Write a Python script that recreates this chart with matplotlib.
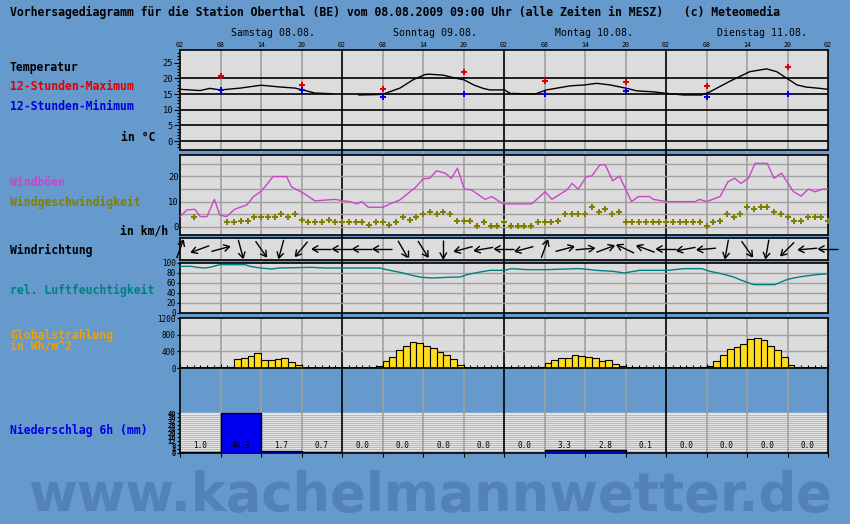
import numpy as np
import matplotlib
matplotlib.use("Agg")
import matplotlib.pyplot as plt
import matplotlib.transforms as mtrans
from matplotlib.collections import LineCollection

plt.rcParams["font.family"] = ["DejaVu Sans Mono"]

# ── data (hours since Saturday 02:00) ───────────────────────────────────────
hour_labels = ["02", "08", "14", "20"] * 4 + ["02"]
day_labels = ["Samstag 08.08.", "Sonntag 09.08.", "Montag 10.08.", "Dienstag 11.08."]

temp_t = [0, 3, 4.4, 6, 9, 12, 15, 17, 18, 20, 22.5, 24, 26.5, 28.6, 30, 32.6, 34.5,
          36.3, 37, 39.0, 40.5, 42.1, 43.5, 44.9, 45.9, 48.1, 48.9, 52.6, 54.3, 57.8,
          60, 61.7, 63.7, 66.2, 67.7, 70.1, 72.1, 74.6, 77.3, 78.5, 81.5, 84.4, 86.9,
          88.4, 89.9, 91.4, 92.8, 94.8, 96]
temp_v = [16.5, 16.1, 16.8, 16.3, 16.9, 17.8, 17.2, 16.9, 16.4, 15.3, 15.1, np.nan,
          14.7, 14.8, 14.9, 16.9, 19.5, 21.2, 21.3, 21.0, 20.2, 19.5, 17.9, 16.8, 16.3,
          16.3, 15.2, 15.0, 16.3, 17.6, 17.9, 18.4, 17.9, 16.8, 16.0, 15.7, 15.2, 14.7,
          14.7, 15.7, 19.1, 22.1, 23.0, 22.1, 20.0, 17.9, 17.2, 16.8, 16.5]
ext_t = [6, 18, 30, 42, 54, 66, 78, 90]
tmax = [20.6, 17.8, 16.5, 21.9, 19.3, 18.7, 17.5, 23.5]
tmin = [16.3, 16.2, 14.2, 14.9, 14.9, 16.0, 14.2, 14.9]

gust_t = [0, 1, 2.2, 3, 4, 5.1, 5.9, 6.9, 8.1, 9.9, 10.9, 12.1, 13.8, 15.8, 16.5, 18.3,
          20, 22, 23, 24, 25.2, 26.2, 26.9, 27.9, 30.1, 31.1, 32.6, 35.0, 36.0, 37, 38,
          39.3, 40.2, 41.1, 42.1, 43.2, 45.2, 46.2, 47.9, 52.1, 54.1, 55.1, 57.3, 58.1,
          59, 60.2, 61, 62.2, 63, 64.1, 65.1, 66.9, 67.9, 69.6, 70.1, 72.1, 76.3, 77,
          78, 80, 81.2, 82.2, 83.1, 84.2, 85.2, 87, 88, 89.1, 90.9, 92, 93.1, 94.1,
          95.1, 96]
gust_v = [4.1, 6.7, 7.0, 4.1, 4.1, 10.9, 4.7, 4.1, 7.0, 8.7, 12.0, 14.3, 19.9, 19.9,
          15.9, 13.3, 10.3, 10.7, 10.9, 10.4, 10.0, 9.1, 10.0, 7.8, 7.8, 9.1, 10.7, 15.9,
          19.0, 19.2, 22.2, 21.2, 19.2, 23.2, 15.0, 14.6, 10.9, 12.0, 9.1, 9.1, 13.9,
          10.9, 14.6, 17.2, 14.9, 19.9, 20.1, 24.5, 24.5, 18.2, 20.1, 10.0, 12.0, 12.0,
          10.9, 10.0, 10.0, 10.9, 10.0, 12.0, 17.9, 19.2, 17.2, 19.2, 25.1, 25.1, 19.2,
          21.2, 13.9, 12.2, 14.9, 13.9, 14.9, 14.9]

wind_t = [2] + list(range(7, 97))
wind_v = [3.8,
          1.8, 1.8, 2.5, 2.5, 3.8, 3.8, 3.8, 3.8, 5.1, 3.8, 5.1, 2.8, 1.8, 1.8, 1.8,
          2.8, 1.8, 1.8, 1.8, 1.8, 1.8, 0.8, 1.8, 1.8, 0.8, 1.8, 3.8, 2.8, 3.8, 5.1,
          5.8, 5.1, 5.8, 5.1, 2.5, 2.5, 2.5, 0.5, 1.8, 0.5, 0.5, 1.8, 0.5, 0.5, 0.5,
          0.5, 1.8, 1.8, 1.8, 2.5, 5.1, 5.1, 5.1, 5.1, 7.8, 5.8, 7.0, 5.1, 5.8, 1.8,
          1.8, 1.8, 1.8, 1.8, 1.8, 1.8, 1.8, 1.8, 1.8, 1.8, 1.8, 0.5, 1.8, 2.5, 5.1,
          3.8, 5.1, 7.8, 7.0, 7.8, 7.8, 5.8, 5.1, 3.8, 2.5, 2.5, 3.8, 3.8, 3.8, 2.5]

dir_t = list(range(0, 97, 3))
dir_ang = [70, 200, 15, -75, -55, -105, -130, 180, 180, 180, 180, -60, -58, -90, 195,
           190, 180, 195, 70, 15, 5, 20, 155, 160, 180, 190, 185, -100, -55, -100,
           -135, 185, 180]   # arrow heading on screen, degrees

hum_t = [0, 1.7, 2.5, 3.7, 4.4, 5.9, 9.6, 10.4, 11.9, 13.6, 14.6, 19.5, 21.5, 29.6,
         30.6, 32.6, 34.6, 35.8, 37.5, 39.5, 41.5, 42.5, 44.2, 45.9, 48.1, 49.1, 51.4,
         54.3, 58.8, 59.3, 61.7, 64.2, 65.8, 67.2, 68.1, 72.3, 74.6, 77.3, 78.5, 80.2,
         82, 83.2, 85, 88.1, 89.9, 90.9, 92.3, 94.3, 96]
hum_v = [93.3, 93.3, 91.3, 90, 91.3, 96.7, 96.7, 93.3, 90, 88, 90, 91.3, 90, 90, 86.7,
         81.3, 74.7, 71.3, 70, 71.3, 72, 76.7, 81.3, 85.3, 85.3, 88.7, 86.7, 86.7, 88.7,
         88.7, 85.3, 83.3, 80, 83.3, 85.3, 85.3, 88.7, 88.7, 83.3, 78.7, 72, 65.3, 56.7,
         56.7, 66.7, 70, 73.3, 76.7, 78.7]

rad_t = [5, 7, 8, 9, 10, 11, 12, 13, 14, 15, 16, 17,
         29, 30, 31, 32, 33, 34, 35, 36, 37, 38, 39, 40, 41,
         52, 53, 54, 55, 56, 57, 58, 59, 60, 61, 62, 63, 64, 65,
         77, 78, 79, 80, 81, 82, 83, 84, 85, 86, 87, 88, 89, 90]
rad_v = [20, 20, 216, 240, 296, 360, 184, 184, 216, 240, 144, 72,
         40, 160, 264, 440, 520, 624, 600, 530, 480, 384, 312, 216, 72,
         15, 15, 120, 184, 240, 240, 312, 280, 264, 240, 160, 184, 104, 40,
         24, 40, 160, 312, 456, 504, 576, 696, 720, 664, 520, 424, 264, 72]

prec_t = list(range(0, 96, 6))
prec_v = [1.0, 40.3, 1.7, 0.7, 0.0, 0.0, 0.0, 0.0,
          0.0, 3.3, 2.8, 0.1, 0.0, 0.0, 0.0, 0.0]

# ── layout ──────────────────────────────────────────────────────────────────
BG = "#6699CC"
PANEL = "#DCDCDC"
GRID = "#A0A0A0"
W, H = 850, 524
X0, X1 = 180, 828

fig = plt.figure(figsize=(W / 100, H / 100), dpi=100, facecolor=BG)


def rect(top, bottom):
    return [X0 / W, 1 - bottom / H, (X1 - X0) / W, (bottom - top) / H]


def vgrid(ax):
    for t in range(6, 96, 6):
        c = "black" if t % 24 == 0 else GRID
        ax.axvline(t, color=c, lw=1.2, zorder=1)


def panel(top, bottom, face=PANEL):
    ax = fig.add_axes(rect(top, bottom), zorder=2)
    ax.set_xlim(0, 96)
    ax.set_facecolor(face)
    for s in ax.spines.values():
        s.set_color("black")
        s.set_linewidth(1.2)
    ax.set_xticks([])
    ax.tick_params(axis="y", labelsize=5.5, length=2, width=0.8, pad=1)
    vgrid(ax)
    return ax


# vertical lines running through the blue gaps between panels
bg = fig.add_axes(rect(50, 453), zorder=1)
bg.set_xlim(0, 96)
bg.axis("off")
vgrid(bg)

# temperature
ax_t = panel(50, 150)
ax_t.set_ylim(-2.8, 29)
for v in range(0, 21, 5):
    ax_t.axhline(v, color="black", lw=1.2, zorder=1)
ax_t.plot(temp_t, temp_v, color="black", lw=1, zorder=3)
ax_t.plot(ext_t, tmax, "P", color="#E00000", ms=5, mew=0, zorder=4)
ax_t.plot(ext_t, tmin, "P", color="#0000E0", ms=5, mew=0, zorder=4)
ax_t.set_yticks(range(0, 26, 5))
ax_t.set_yticks(range(-2, 29), minor=True)
ax_t.tick_params(axis="y", labelsize=6.3, length=4)
ax_t.tick_params(axis="y", which="minor", length=2, width=0.8)
ax_t.xaxis.tick_top()
ax_t.set_xticks(range(0, 97, 6))
ax_t.set_xticklabels(hour_labels, fontsize=4.8)
ax_t.tick_params(axis="x", length=0, pad=1.5)
day_tr = mtrans.blended_transform_factory(ax_t.transData, fig.transFigure)
for i, lab in enumerate(day_labels):
    ax_t.text(24 * i + 7.55, 1 - 33 / H, lab, transform=day_tr, fontsize=7.1,
              ha="left", va="center")

# wind
ax_w = panel(155, 235)
ax_w.set_ylim(-3.16, 28.4)
for v in range(0, 26, 5):
    ax_w.axhline(v, color=GRID, lw=1, zorder=1)
ax_w.plot(gust_t, gust_v, color="#CC44CC", lw=1, zorder=3)
ax_w.plot(wind_t, wind_v, "P", color="#808000", ms=5, mew=0, zorder=4)
ax_w.set_yticks([0, 10, 20])
ax_w.tick_params(axis="y", labelsize=6.3, length=0)

# wind direction
ax_d = panel(238, 260)
ax_d.set_ylim(-1, 1)
ax_d.set_yticks([])
bb = ax_d.get_window_extent()
sx, sy = bb.width / 96, bb.height / 2
segs = []
L, HL = 19, 7
for t, a in zip(dir_t, dir_ang):
    r = np.radians(a)
    ux, uy = np.cos(r) / sx, np.sin(r) / sy
    head = (t + L / 2 * ux, L / 2 * uy)
    segs.append([(t - L / 2 * ux, -L / 2 * uy), head])
    for da in (150, -150):
        rr = np.radians(a + da)
        segs.append([head, (head[0] + HL * np.cos(rr) / sx, head[1] + HL * np.sin(rr) / sy)])
ax_d.add_collection(LineCollection(segs, colors="black", linewidths=1, clip_on=False, zorder=3))

# humidity
ax_h = panel(263, 313)
ax_h.set_ylim(0, 100)
for v in range(20, 100, 20):
    ax_h.axhline(v, color=GRID, lw=1, zorder=1)
ax_h.plot(hum_t, hum_v, color="#008080", lw=1, zorder=3)
ax_h.set_yticks(range(0, 101, 20))

# global radiation
ax_r = panel(318, 368)
ax_r.set_ylim(0, 1200)
for v in (400, 800):
    ax_r.axhline(v, color=GRID, lw=1, zorder=1)
ax_r.bar(rad_t, rad_v, width=1, align="edge", color="#FFDC1E", edgecolor="black",
         linewidth=0.8, zorder=3)
ax_r.set_yticks([0, 400, 800, 1200])
ax_r.set_xticks(range(0, 97, 6))
ax_r.set_xticks(range(0, 97), minor=True)
ax_r.tick_params(axis="x", direction="in", length=3, width=0.8, labelbottom=False)
ax_r.tick_params(axis="x", which="minor", direction="in", length=2, width=0.8)

# precipitation
ax_p = panel(368, 453, face=BG)
ax_p.set_ylim(0, 85)
ax_p.axhspan(0, 40, color="#E4E4E4", zorder=0.5)
ax_p.hlines(np.arange(0.5, 40, 2), 0, 96, color="#B8B8B8", lw=0.7, zorder=0.6)
ax_p.bar(prec_t, prec_v, width=6, align="edge", color="#0000EE", edgecolor="black",
         linewidth=1, zorder=3)
for t, v in zip(prec_t, prec_v):
    ax_p.text(t + 3, 7.5, f"{v:.1f}", fontsize=5.5, ha="center", va="center", zorder=4)
ax_p.set_yticks(range(0, 41, 4))
ax_p.set_yticklabels([str(v) for v in range(0, 41, 4)], fontsize=5, fontweight="bold")
ax_p.set_xticks(range(0, 97, 6))
ax_p.tick_params(axis="x", direction="out", length=3, width=0.8, labelbottom=False)

# ── texts ───────────────────────────────────────────────────────────────────
def label(x, y, s, color="black", ha="left", **kw):
    fig.text(x / W, 1 - y / H, s, color=color, ha=ha, va="center", fontsize=8.3,
             fontweight="bold", **kw)


label(10, 12, "Vorhersagediagramm für die Station Oberthal (BE) vom 08.08.2009 "
              "09:00 Uhr (alle Zeiten in MESZ)   (c) Meteomedia")
label(10, 67, "Temperatur")
label(10, 87, "12-Stunden-Maximum", "#E00000")
label(10, 107, "12-Stunden-Minimum", "#0000E0")
label(155, 137, "in °C", ha="right")
label(10, 182, "Windböen", "#CC44CC")
label(10, 202, "Windgeschwindigkeit", "#808000")
label(120, 231, "in km/h")
label(10, 250, "Windrichtung")
label(10, 290, "rel. Luftfeuchtigkeit", "#008080")
label(10, 335, "Globalstrahlung", "#F0A000")
label(10, 346, "in Wh/m^2", "#F0A000")
label(10, 430, "Niederschlag 6h (mm)", "#0000E0")

fig.text(430 / W, 1 - 511 / H, "www.kachelmannwetter.de", ha="center", va="baseline",
         fontsize=38, fontweight="bold", color="#5282B8", family="DejaVu Sans")

fig.savefig("out.png", dpi=100, facecolor=BG)
